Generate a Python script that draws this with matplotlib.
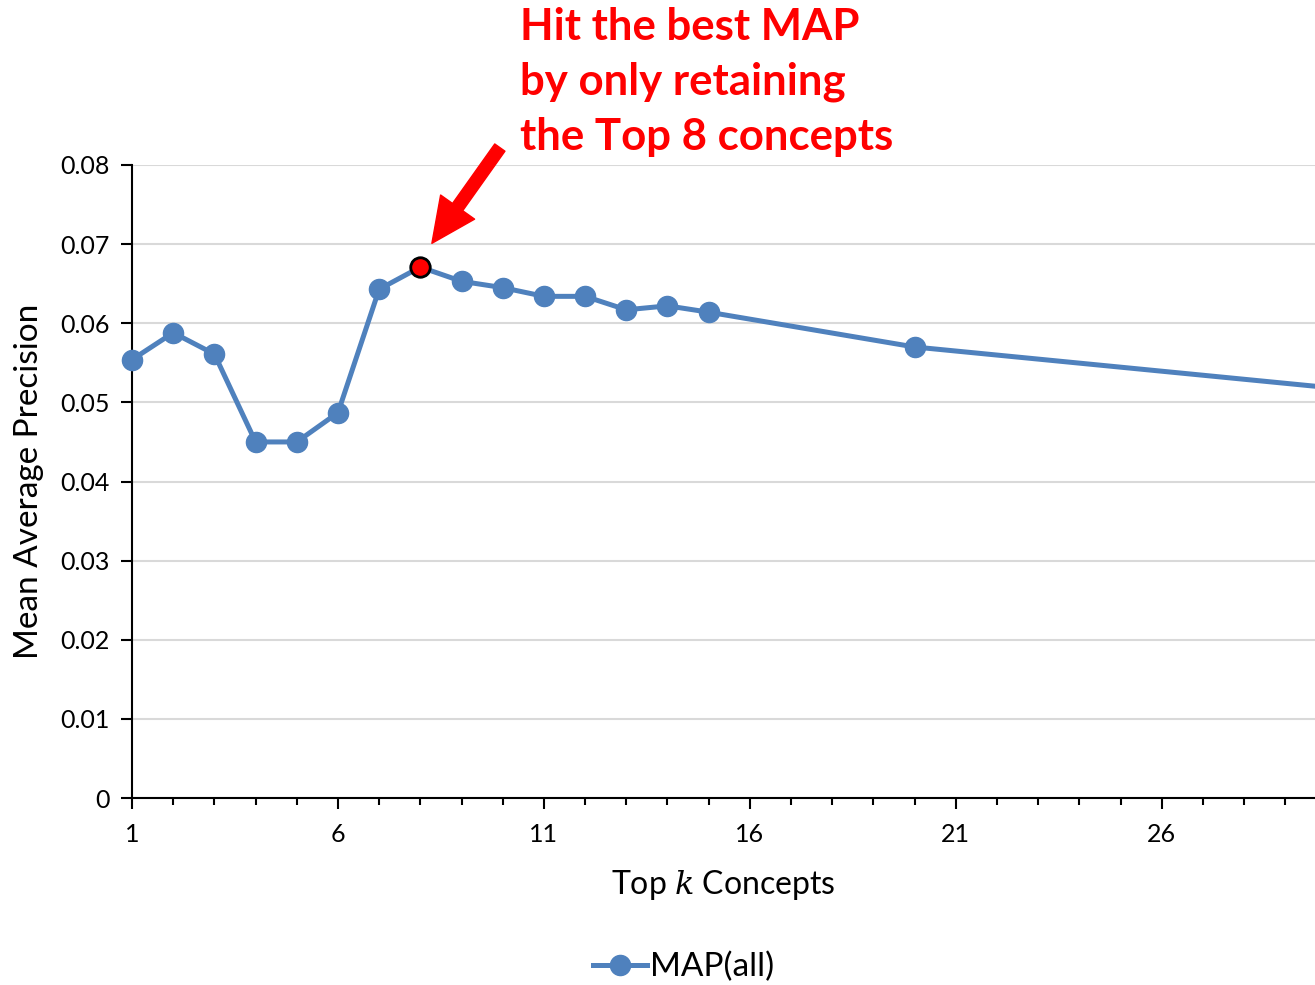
import matplotlib
matplotlib.use('Agg')
import matplotlib.pyplot as plt
from matplotlib.ticker import MultipleLocator, FixedLocator

plt.rcParams['font.family'] = ['Lato', 'DejaVu Sans']
plt.rcParams['mathtext.fontset'] = 'dejavuserif'

# data
top_k = [1, 2, 3, 4, 5, 6, 7, 8, 9, 10, 11, 12, 13, 14, 15, 20, 30]
map_all = [0.0554, 0.0588, 0.0561, 0.0450, 0.0450, 0.0487, 0.0643, 0.0671,
           0.0653, 0.0645, 0.0634, 0.0634, 0.0617, 0.0622, 0.0614, 0.0570, 0.0519]
x_labels = [1, 6, 11, 16, 21, 26]
best_k = 8
best_map = 0.0671

blue = '#4F81BD'

fig = plt.figure(figsize=(13.15, 9.85), dpi=100)
ax = fig.add_axes([0.1004, 0.1898, 0.8996, 0.6427])

line, = ax.plot(top_k, map_all, color=blue, lw=3.6, marker='o', ms=14.5,
                label='MAP(all)', clip_on=False, zorder=3)
ax.plot([best_k], [best_map], marker='o', ms=14, color='red',
        markeredgecolor='black', markeredgewidth=2, zorder=4, clip_on=False)

ax.set_xlim(1, 29.72)
ax.set_ylim(0, 0.08)
ax.xaxis.set_major_locator(FixedLocator(x_labels))
ax.xaxis.set_minor_locator(MultipleLocator(1))
ax.set_yticks([i / 100 for i in range(9)])
ax.set_yticklabels(['0'] + ['%.2f' % (i / 100) for i in range(1, 9)])

ax.grid(axis='y', color='#d9d9d9', lw=1.5, zorder=0)
ax.set_axisbelow(True)
for s in ['top', 'right']:
    ax.spines[s].set_visible(False)
ax.spines['left'].set_linewidth(1.5)
ax.spines['bottom'].set_linewidth(1.5)
ax.tick_params(axis='both', which='major', labelsize=18, width=1.5, length=8, direction='out')
ax.tick_params(axis='x', which='minor', width=1.5, length=5, direction='out')
ax.tick_params(axis='x', which='major', pad=10)
ax.tick_params(axis='y', which='major', pad=8)

ax.set_ylabel('Mean Average Precision', fontsize=24, labelpad=12)
ax.set_xlabel('Top $k$ Concepts', fontsize=23, labelpad=16)

# annotation
ax.annotate('', xy=(8.28, 0.0701), xytext=(9.93, 0.0822),
            arrowprops=dict(facecolor='red', edgecolor='red', width=9,
                            headwidth=30, headlength=32),
            annotation_clip=False)
fig.text(520 / 1315, 1 - 7 / 985, 'Hit the best MAP\nby only retaining\nthe Top 8 concepts',
         color='red', fontsize=31.5, fontweight='bold', ha='left', va='top',
         linespacing=1.45)

fig.legend(handles=[line], loc='center', bbox_to_anchor=(0.52, 0.018),
           frameon=False, fontsize=24, handlelength=1.6, handletextpad=0.1)

fig.savefig('out.png', dpi=100)
